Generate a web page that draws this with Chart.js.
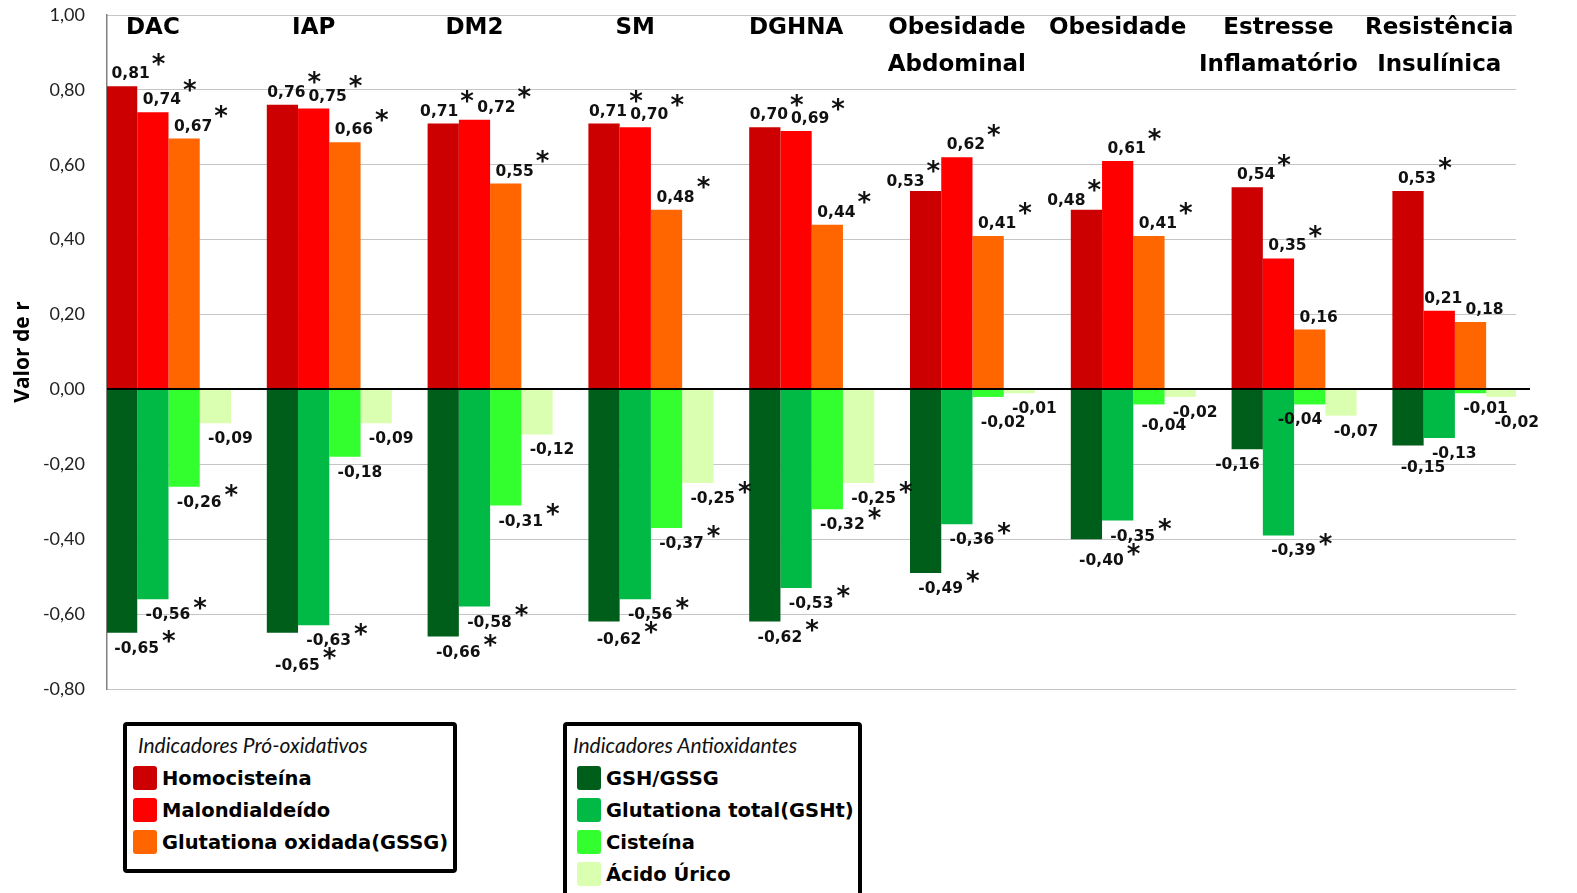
<!DOCTYPE html>
<html lang="pt">
<head>
<meta charset="utf-8">
<title>Correlação dos indicadores oxidativos</title>
<script src="https://cdn.jsdelivr.net/npm/chart.js@4.4.1/dist/chart.umd.min.js"></script>
<style>
  html, body { margin: 0; padding: 0; background: #fff; overflow: hidden; }
  #wrap { position: relative; width: 1577px; height: 893px; overflow: hidden; }
  #chart { position: absolute; left: 0; top: 0; }
  .legbox { position: absolute; box-sizing: border-box; border: 4px solid #000; border-radius: 4px;
            background: #fff; padding-top: 8px; }
  .legtitle { font: italic 21px Lato, sans-serif; color: #111; height: 22px; line-height: 22px;
              white-space: nowrap; margin-bottom: 6px; }
  .legrow { height: 32px; display: flex; align-items: center; white-space: nowrap;
            font: bold 19.5px "DejaVu Sans", sans-serif; color: #000; }
  .sw { width: 24px; height: 24px; border-radius: 3px; margin-right: 5px; flex: none; }
</style>
</head>
<body>
<div id="wrap">
  <canvas id="chart" width="1577" height="893"></canvas>
</div>
<script>
// Categorias (condições clínicas)
const categories = [
  ["DAC"], ["IAP"], ["DM2"], ["SM"], ["DGHNA"],
  ["Obesidade", "Abdominal"], ["Obesidade"],
  ["Estresse", "Inflamatório"], ["Resistência", "Insulínica"]
];

// Indicadores pró-oxidativos (valor de r)
const homocisteina   = [0.81, 0.76, 0.71, 0.71, 0.70, 0.53, 0.48, 0.54, 0.53];
const malondialdeido = [0.74, 0.75, 0.72, 0.70, 0.69, 0.62, 0.61, 0.35, 0.21];
const gssg           = [0.67, 0.66, 0.55, 0.48, 0.44, 0.41, 0.41, 0.16, 0.18];

// Indicadores antioxidantes (valor de r)
const gshGssg    = [-0.65, -0.65, -0.66, -0.62, -0.62, -0.49, -0.40, -0.16, -0.15];
const gsht       = [-0.56, -0.63, -0.58, -0.56, -0.53, -0.36, -0.35, -0.39, -0.13];
const cisteina   = [-0.26, -0.18, -0.31, -0.37, -0.32, -0.02, -0.04, -0.04, -0.01];
const acidoUrico = [-0.09, -0.09, -0.12, -0.25, -0.25, -0.01, -0.02, -0.07, -0.02];

// Correlações significativas (marcadas com *)
const homocisteinaSig   = [1, 1, 1, 1, 1, 1, 1, 1, 1];
const malondialdeidoSig = [1, 1, 1, 1, 1, 1, 1, 1, 0];
const gssgSig           = [1, 1, 1, 1, 1, 1, 1, 0, 0];
const gshGssgSig        = [1, 1, 1, 1, 1, 1, 1, 0, 0];
const gshtSig           = [1, 1, 1, 1, 1, 1, 1, 1, 0];
const cisteinaSig       = [1, 0, 1, 1, 1, 0, 0, 0, 0];
const acidoUricoSig     = [0, 0, 0, 1, 1, 0, 0, 0, 0];

// Marcas do eixo Y
const yTickValues = [-0.8, -0.6, -0.4, -0.2, 0, 0.2, 0.4, 0.6, 0.8, 1.0];

const legendTitles = ["Indicadores Pró-oxidativos", "Indicadores Antioxidantes"];

// Séries: cada coluna (stack) tem uma barra positiva e/ou uma negativa
const series = [
  { label: "Homocisteína",              values: homocisteina,   sig: homocisteinaSig,   color: "#CC0000", stack: "c1", group: 0 },
  { label: "Malondialdeído",            values: malondialdeido, sig: malondialdeidoSig, color: "#FF0000", stack: "c2", group: 0 },
  { label: "Glutationa oxidada(GSSG)",  values: gssg,           sig: gssgSig,           color: "#FF6600", stack: "c3", group: 0 },
  { label: "GSH/GSSG",                  values: gshGssg,        sig: gshGssgSig,        color: "#005E1B", stack: "c1", group: 1 },
  { label: "Glutationa total(GSHt)",    values: gsht,           sig: gshtSig,           color: "#00BA45", stack: "c2", group: 1 },
  { label: "Cisteína",                  values: cisteina,       sig: cisteinaSig,       color: "#33FF2F", stack: "c3", group: 1 },
  { label: "Ácido Úrico",               values: acidoUrico,     sig: acidoUricoSig,     color: "#DAFFB0", stack: "c4", group: 1 }
];

const fmt = v => v.toFixed(2).replace(".", ",");

const NUM_FONT = 'bold 15.5px "DejaVu Sans"';
const STAR_FONT = 'bold 26px "DejaVu Sans"';
const CAT_FONT = 'bold 23px "DejaVu Sans"';

// Linha do zero, rótulos de valor com asterisco e nomes das categorias
const annotate = {
  id: "annotate",
  afterDatasetsDraw(chart) {
    const { ctx, chartArea: area, scales: { y } } = chart;
    const y0 = Math.round(y.getPixelForValue(0));
    ctx.save();
    ctx.strokeStyle = "#000";
    ctx.lineWidth = 2;
    ctx.beginPath();
    ctx.moveTo(area.left, y0);
    ctx.lineTo(area.right + 14, y0);
    ctx.stroke();

    ctx.font = NUM_FONT;
    const digitH = ctx.measureText("0").actualBoundingBoxAscent;
    ctx.font = STAR_FONT;
    const sm = ctx.measureText("*");
    const starDy = (sm.actualBoundingBoxAscent - sm.actualBoundingBoxDescent) / 2;
    const starDx = (sm.actualBoundingBoxRight - sm.actualBoundingBoxLeft) / 2;

    const HALF = 6, SR = 7, GAP = 3;
    const metas = chart.data.datasets.map((ds, di) => chart.getDatasetMeta(di));

    const rects = L => {
      const r = [[L.cx - L.w / 2, L.cy - HALF, L.cx + L.w / 2, L.cy + HALF]];
      if (L.sig) {
        const sx = L.cx + L.w / 2 + L.sdx, sy = L.cy + L.sdy;
        r.push([sx - SR, sy - SR, sx + SR, sy + SR]);
      }
      return r;
    };
    const hit = (a, b) => {
      for (const p of rects(a)) for (const q of rects(b)) {
        if (p[0] < q[2] + GAP && q[0] < p[2] + GAP && p[1] < q[3] + 1 && q[1] < p[3] + 1) return true;
      }
      return false;
    };

    const all = [];
    for (let i = 0; i < categories.length; i++) {
      for (const sign of [1, -1]) {
        const list = [];
        chart.data.datasets.forEach((ds, di) => {
          const v = ds.data[i].y;
          if (Math.sign(v) !== sign) return;
          list.push({ v, bar: metas[di].data[i], sig: ds.sig[i], text: fmt(v) });
        });
        list.sort((a, b) => a.bar.x - b.bar.x);
        ctx.font = NUM_FONT;
        list.forEach((L, k) => {
          L.w = ctx.measureText(L.text).width;
          const next = list[k + 1];
          if (sign > 0) {
            L.cx = L.bar.x + 9; L.cy = L.bar.y - 14; L.sdx = 9; L.sdy = -13;
            if (next && next.bar.y < L.cy + HALF) { L.cx = L.bar.x - 1 - L.w / 2; L.cy = L.bar.y - 11; }
          } else {
            L.cx = L.bar.x + 15; L.cy = L.bar.y + 14; L.sdx = 10; L.sdy = -10;
            if (next && next.bar.y > L.cy - HALF) { L.cx = next.bar.x - next.bar.width / 2 - 3 - L.w / 2; }
          }
        });
        // Rótulos positivos: afastam-se lateralmente antes de subir
        if (sign > 0) {
          for (let k = 1; k < list.length; k++) {
            const b = list[k], a = list[k - 1];
            let s = 0;
            while (hit(a, b) && s < 13) { a.cx -= 1; b.cx += 1; s++; }
          }
        }
        // Sobreposições restantes: o rótulo da barra mais longa afasta-se do zero
        let moved = true, iter = 0;
        while (moved && iter++ < 300) {
          moved = false;
          for (let k = 0; k < list.length; k++) {
            for (let j = k + 1; j < list.length; j++) {
              const a = list[k], b = list[j];
              if (!hit(a, b)) continue;
              const mover = Math.abs(b.v) > Math.abs(a.v) ? b : a;
              mover.cy -= sign;
              moved = true;
            }
          }
        }
        all.push(...list);
      }
    }

    ctx.fillStyle = "#111";
    for (const L of all) {
      ctx.font = NUM_FONT;
      ctx.textAlign = "center";
      ctx.textBaseline = "alphabetic";
      ctx.fillText(L.text, L.cx, L.cy + digitH / 2);
      if (L.sig) {
        ctx.font = STAR_FONT;
        ctx.textAlign = "left";
        const sx = L.cx + L.w / 2 + L.sdx, sy = L.cy + L.sdy;
        ctx.fillText("*", sx - starDx, sy + starDy);
      }
    }

    // Nomes das categorias no topo de cada grupo
    ctx.font = CAT_FONT;
    ctx.fillStyle = "#000";
    ctx.textAlign = "center";
    ctx.textBaseline = "alphabetic";
    categories.forEach((lines, i) => {
      const cx = (metas[0].data[i].x + metas[2].data[i].x) / 2;
      lines.forEach((t, li) => ctx.fillText(t, cx, area.top + 19 + li * 37));
    });
    ctx.restore();
  }
};

const chart = new Chart(document.getElementById("chart"), {
  type: "bar",
  data: {
    datasets: series.map(s => ({
      label: s.label,
      data: s.values.map((v, i) => ({ x: i, y: v })),
      sig: s.sig,
      backgroundColor: s.color,
      borderWidth: 0,
      stack: s.stack,
      categoryPercentage: 0.7774,
      barPercentage: 1
    }))
  },
  options: {
    responsive: false,
    animation: false,
    devicePixelRatio: 1,
    layout: { padding: { left: 0, right: 61, top: 15, bottom: 204 } },
    plugins: { legend: { display: false }, tooltip: { enabled: false } },
    scales: {
      x: {
        type: "linear", min: -0.3825, max: 8.38, offset: false,
        display: false, stacked: true,
        afterBuildTicks: s => { s.ticks = categories.map((c, i) => ({ value: i })); }
      },
      y: {
        stacked: true,
        min: -0.8, max: 1.0,
        afterBuildTicks: s => { s.ticks = yTickValues.map(v => ({ value: v })); },
        afterFit: s => { s.width = 107; s.paddingTop = 0; s.paddingBottom = 0; },
        ticks: {
          padding: 22,
          color: "#222",
          font: { family: "Lato", size: 18 },
          callback: v => fmt(v)
        },
        grid: { color: "#8a8a8a", lineWidth: 1, drawTicks: false },
        border: { display: true, color: "#808080", width: 1.5, dash: [1, 1] },
        title: {
          display: true,
          text: "Valor de r",
          color: "#000",
          font: { family: "Open Sans", weight: "bold", size: 21 },
          padding: { top: 10, bottom: 0 }
        }
      }
    }
  },
  plugins: [annotate]
});

// Legendas em duas caixas (pró-oxidativos e antioxidantes)
const legendBoxes = [
  { left: 123, top: 722, width: 334, height: 151, inset: 6,  titleInset: 11 },
  { left: 563, top: 722, width: 299, height: 190, inset: 10, titleInset: 6 }
];
legendTitles.forEach((title, g) => {
  const b = legendBoxes[g];
  const box = document.createElement("div");
  box.className = "legbox";
  Object.assign(box.style, { left: b.left + "px", top: b.top + "px", width: b.width + "px",
                             height: b.height + "px", paddingLeft: b.inset + "px" });
  const t = document.createElement("div");
  t.className = "legtitle";
  t.style.marginLeft = (b.titleInset - b.inset) + "px";
  t.textContent = title;
  box.appendChild(t);
  series.filter(s => s.group === g).forEach(s => {
    const row = document.createElement("div");
    row.className = "legrow";
    const sw = document.createElement("span");
    sw.className = "sw";
    sw.style.background = s.color;
    row.appendChild(sw);
    row.appendChild(document.createTextNode(s.label));
    box.appendChild(row);
  });
  document.getElementById("wrap").appendChild(box);
});
</script>
</body>
</html>
